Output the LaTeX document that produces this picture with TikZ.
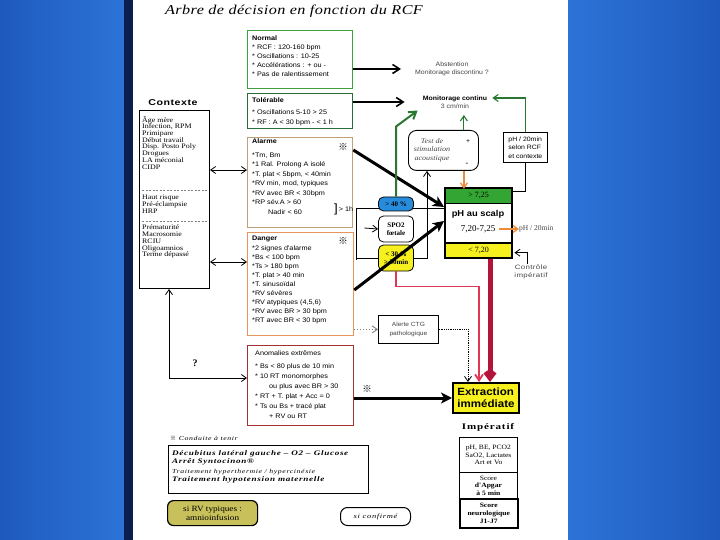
\documentclass[tikz,border=0pt]{standalone}
\usepackage{fontspec}
\setmainfont{Liberation Serif}
\setsansfont{Liberation Sans}
\newfontfamily\cjk{Noto Sans CJK SC}
\newfontfamily\ctxfont[FakeStretch=1.15]{Liberation Serif}
\newfontfamily\ttlfont[FakeStretch=1.2,LetterSpace=3]{Liberation Serif}
\newfontfamily\legfont[FakeStretch=1.3,LetterSpace=10]{Liberation Serif}
\newfontfamily\bxfont[FakeStretch=1.1]{Liberation Sans}
\newfontfamily\wfont[FakeStretch=1.25,LetterSpace=6]{Liberation Sans}
\usetikzlibrary{arrows.meta,calc,fit}
\newcommand{\fs}[2]{\fontsize{#1}{#2}\selectfont}
\newcommand{\refm}{{\cjk ※}}
\definecolor{sideL}{RGB}{30,90,190}
\definecolor{sideR}{RGB}{45,115,215}
\definecolor{navy}{RGB}{12,30,80}
\definecolor{cnormal}{RGB}{60,160,60}
\definecolor{ctol}{RGB}{40,110,60}
\definecolor{calarme}{RGB}{190,160,120}
\definecolor{cdanger}{RGB}{230,150,90}
\definecolor{canom}{RGB}{160,50,50}
\definecolor{cgreen}{RGB}{40,120,50}
\definecolor{phgreen}{RGB}{50,165,50}
\definecolor{phyellow}{RGB}{245,240,30}
\definecolor{spblue}{RGB}{40,140,220}
\definecolor{corange}{RGB}{235,140,60}
\definecolor{dred}{RGB}{180,20,60}
\definecolor{lred}{RGB}{225,55,85}
\definecolor{olive}{RGB}{200,192,90}
\definecolor{txtgray}{RGB}{70,70,70}
\tikzset{
 box/.style={draw, line width=1.3pt, anchor=north west, inner sep=0pt, fill=white},
 btxt/.style={anchor=north west, align=left, inner sep=0pt, font=\bxfont\fs{6.6}{9}},
 ctxt/.style={anchor=north west, align=left, inner sep=0pt, font=\ctxfont\fs{6.9}{6.7}},
 thinarr/.style={line width=0.8pt, -{Straight Barb[length=5pt,width=7pt]}},
 midarr/.style={line width=1.6pt, -{Straight Barb[length=7pt,width=9pt]}},
 thkarr/.style={line width=3pt, -{Stealth[length=11pt,width=11pt,inset=3pt]}},
 dblarr/.style={line width=0.8pt, {Straight Barb[length=5pt,width=7pt]}-{Straight Barb[length=5pt,width=7pt]}},
 bline/.style={draw=black, line width=0.8pt},
 spn/.style={draw, rounded corners=5pt, minimum width=35pt, inner sep=0pt, align=center, font=\fs{7}{7.5}\bfseries, line width=0.8pt},
 cell/.style={draw, anchor=north west, minimum width=58pt, align=center, inner sep=1pt, font=\ctxfont\fs{6.6}{7.6}, line width=0.9pt},
 mtxt/.style={font=\bxfont\fs{6.3}{8}, text=txtgray, align=center, inner sep=0pt},
 gthin/.style={draw=cgreen, line width=1.1pt, -{Straight Barb[length=5pt,width=7pt]}},
 gthick/.style={draw=cgreen, line width=2pt, -{Straight Barb[length=7pt,width=9pt]}},
 refmk/.style={font=\fs{9.5}{9.5}, inner sep=0pt},
}
\begin{document}
\begin{tikzpicture}[x=1pt,y=-1pt]
\useasboundingbox (0,0) rectangle (720,540);
\shade[left color=sideL, right color=sideR] (0,0) rectangle (124,540);
\fill[navy] (124,0) rectangle (133,540);
\shade[left color=sideR, right color=sideL] (568,0) rectangle (720,540);
\fill[white] (133,0) rectangle (568,540);

% title
\node[font=\ttlfont\itshape\fs{13.5}{15}] (title) at (294,11) {Arbre de décision en fonction du RCF};

% Contexte
\node[font=\wfont\bfseries\fs{8.5}{10}, inner sep=0pt] (ctxtitle) at (173,103) {Contexte};
\node[box, draw=black, line width=1pt, minimum width=70pt, minimum height=178pt] (ctx) at (139,110) {};
\node[ctxt] (ctx1) at (142,116) {Âge mère\\Infection, RPM\\Primipare\\Début travail\\Disp. Posto Poly\\Drogues\\LA méconial\\CIDP};
\draw[dashed, gray, dash pattern=on 2pt off 1.5pt] ($(ctx.north west)+(3,80)$) -- ($(ctx.north east)+(-3,80)$);
\node[ctxt] (ctx2) at (142,195) {Haut risque\\Pré-éclampsie\\HRP};
\draw[dashed, gray, dash pattern=on 2pt off 1.5pt] ($(ctx.north west)+(3,111)$) -- ($(ctx.north east)+(-3,111)$);
\node[ctxt] (ctx3) at (142,225) {Prématurité\\Macrosomie\\RCIU\\Oligoamnios\\Terme dépassé};

% Normal
\node[box, draw=cnormal, minimum width=105pt, minimum height=58pt] (normal) at (247,30) {};
\node[btxt] (normalt) at (252,36) {\textbf{Normal}\\* RCF : 120-160 bpm\\* Oscillations : 10-25\\* Accélérations : + ou -\\* Pas de ralentissement};

% Tolerable
\node[box, draw=ctol, minimum width=105pt, minimum height=35pt] (tol) at (247,93) {};
\node[btxt, font=\bxfont\fs{6.6}{10}] (tolt) at (252,97) {\textbf{Tolérable}\\[2pt]* Oscillations 5-10 > 25\\* RF : A < 30 bpm - < 1 h};

% Alarme
\node[box, draw=calarme, minimum width=105pt, minimum height=90pt] (alarme) at (247,137) {};
\node[btxt, font=\bxfont\fs{6.6}{9.5}] (alarmet) at (252,139) {\textbf{Alarme}\\[4pt]*Tm, Bm\\*1 Ral. Prolong A isolé\\*T. plat < 5bpm, < 40min\\*RV min, mod, typiques\\*RV avec BR < 30bpm\\*RP sév.A > 60\\\hspace{16pt}Nadir < 60};
\node[refmk] (alarmem) at (343,147) {\refm};
\node[font=\bxfont\fs{12}{12}, inner sep=0pt] (alarmbr) at (336,209) {]};
\node[font=\bxfont\fs{6.6}{8}, inner sep=0pt] (alarmh) at (346,209) {> 1h};

% Danger
\node[box, draw=cdanger, minimum width=106pt, minimum height=103pt] (danger) at (247,232) {};
\node[btxt] (dangert) at (252,236) {\textbf{Danger}\\[1pt]*2 signes d'alarme\\*Bs < 100 bpm\\*Ts > 180 bpm\\*T. plat > 40 min\\*T. sinusoïdal\\*RV sévères\\*RV atypiques (4,5,6)\\*RV avec BR > 30 bpm\\*RT avec BR < 30 bpm};
\node[refmk] (dangerm) at (343,241) {\refm};

% Anomalies
\node[box, draw=canom, minimum width=106pt, minimum height=80pt] (anom) at (247,345) {};
\node[btxt, font=\bxfont\fs{6.6}{10}] (anomt) at (255,350) {Anomalies extrêmes\\[3pt]* Bs < 80 plus de 10 min\\* 10 RT monomorphes\\\hspace{14pt}ou plus avec BR > 30\\* RT + T. plat + Acc = 0\\* Ts ou Bs + tracé plat\\\hspace{14pt}+ RV ou RT};

% context links
\draw[dblarr] ($(ctx.north east)+(0,60)$) -- ($(alarme.north west)+(0,33)$);
\draw[dblarr] ($(ctx.north east)+(0,152)$) -- ($(danger.north west)+(0,30)$);
\coordinate (q) at (169,378);
\draw[dblarr] (q |- ctx.south) -- (q) -- (anom.west |- q);
\node[font=\bfseries\fs{10}{10}] (qm) at (195,363) {?};

% right side text
\node[mtxt] (abst) at (452,69) {Abstention\\Monitorage discontinu ?};
\node[mtxt] (monit) at (455,102) {\textcolor{black}{\textbf{Monitorage continu}}\\3 cm/min};
\draw[midarr] (normal.east |- abst.west) -- ($(abst.west)+(-14,0)$);
\draw[midarr] (tol.east |- monit.west) -- ($(monit.west)+(-18,0)$);

% pH block
\node[anchor=north west, fill=phgreen, minimum width=67pt, minimum height=15pt, inner sep=0pt, font=\fs{8}{8}] (phg) at (445,188) {> 7,25};
\node[anchor=north west, fill=white, minimum width=67pt, minimum height=40pt, inner sep=0pt] (phw) at (445,203) {};
\node[anchor=north west, fill=phyellow, minimum width=67pt, minimum height=15pt, inner sep=0pt, font=\fs{8}{8}] (phy) at (445,243) {< 7,20};
\node[fit=(phg)(phy), draw, line width=2pt, inner sep=0pt] (ph) {};
\draw[line width=1.5pt] (phg.south west) -- (phg.south east);
\draw[line width=1.5pt] (phy.north west) -- (phy.north east);
\node[font=\bxfont\bfseries\fs{8.5}{9}, inner sep=0pt] (phtitle) at (478,214) {pH au scalp};
\node[font=\fs{9}{9}, inner sep=0pt] (phmid) at (478,229) {7,20-7,25};
\node[anchor=west, font=\fs{7.5}{8}, text=txtgray, inner sep=0pt] (ph20b) at (519,229) {pH / 20min};
\draw[draw=corange, line width=1.3pt, -{Straight Barb[length=5pt,width=7pt]}] ($(phmid.east)+(4,0)$) -- (ph20b.west);
\node[font=\wfont\fs{6.3}{8.5}, text=txtgray, align=center, inner sep=0pt] (ctrl) at (531,272) {Contrôle\\impératif};
\draw[thinarr] ($(ctrl.north)+(-4,-1)$) |- ($(phy.east)+(2,2)$);

% bracket lines and Alarme arrow behind SPO2 nodes
\coordinate (bk) at ($(alarme.north east)+(3,71)$);
\draw[bline] (bk) -- (bk -| ph.west);
\draw[bline] (bk) -- ($(danger.north east)+(2,28)$);
\draw[thkarr] ($(alarme.north east)+(0,13)$) -- ($(ph.north west)+(0,20)$);

% SPO2
\node[spn, fill=spblue, minimum height=14pt] (blue) at (396,204) {> 40 \%};
\node[spn, fill=white, minimum height=26pt] (spo2) at (396,229) {SPO2\\fœtale};
\node[spn, fill=phyellow, minimum height=26pt] (yel) at (396,258) {< 30 \%\\> 30min};
\draw[thinarr] ($(bk)+(8,20)$) -- (spo2.west);
\draw[bline] (bk |- yel.west) -- (yel.west);

% test and pH/20
\node[draw, rounded corners=8pt, line width=0.9pt, minimum width=70pt, minimum height=40pt, anchor=north west] (test) at (408,130) {};
\node[font=\ctxfont\itshape\fs{7}{8.5}, text=txtgray, align=center, inner sep=0pt] (testt) at (432,150) {Test de\\stimulation\\acoustique};
\node[font=\bfseries\fs{7}{7}, inner sep=0pt] (tplus) at (468,142) {+};
\node[font=\bfseries\fs{8}{8}, inner sep=0pt] (tminus) at (467,164) {-};
\node[draw, line width=0.7pt, anchor=north west, minimum width=44pt, minimum height=30pt, align=left, inner sep=2pt, font=\bxfont\fs{6.3}{8.5}] (ph20) at (503,132) {pH / 20min\\selon RCF\\et contexte};

\draw[gthin] (ph20.north) |- ($(monit.east)+(5,-4)$);
\draw[gthin] ($(test.north east)+(-15,0)$) -- ++(0,-15);
\draw[gthick] (blue.north) -- ++(0,-70) -- ($(monit.south west)+(-5,2)$);
\draw[line width=0.7pt] (ph20.south) |- ($(ph.north east)+(0,4)$);
\draw[draw=corange, line width=1.3pt, -{Straight Barb[length=5pt,width=7pt]}] ($(test.south east)+(-15,0)$) -- ++(0,18);
\draw[thinarr] (yel.east) -| ($(test.south west)+(19,0)$);

% Danger thick arrow over the yellow node
\draw[thkarr] ($(danger.north east)+(0,58)$) -- ($(ph.north west)+(0,34)$);

% Extraction
\node[draw, line width=2pt, fill=phyellow, anchor=north west, minimum width=66pt, minimum height=30pt, align=left, inner sep=2pt, font=\bxfont\bfseries\fs{10.5}{12}] (extr) at (452,382) {Extraction\\immédiate};
\coordinate (rx) at ($(extr.north west)+(38,0)$);
\draw[draw=dred, line width=5pt, -{Straight Barb[length=6pt,width=9pt]}] (rx |- ph.south) -- (rx);
\draw[draw=lred, line width=1.8pt, -{Straight Barb[length=6pt,width=8pt]}] (yel.south) -- ++(0,15) -| ($(extr.north west)+(27,0)$);

% Alerte CTG
\node[draw, line width=0.8pt, anchor=north west, minimum width=60pt, minimum height=28pt, align=center, font=\bxfont\fs{6}{9}, text=txtgray] (alerte) at (378,315) {Alerte CTG\\pathologique};
\draw[draw=gray, line width=0.9pt, dotted, -{Straight Barb[length=5pt,width=7pt]}] (danger.east |- alerte.west) -- (alerte.west);
\draw[line width=0.8pt, densely dotted, -{Straight Barb[length=5pt,width=7pt]}] (alerte.east) -| ($(extr.north west)+(16,0)$);

% anomalies -> extraction
\draw[thkarr] (anom.east |- extr.west) -- (extr.west);
\node[refmk] (anomm) at (367,389) {\refm};

% Imperatif
\node[font=\legfont\bfseries\fs{8.5}{9}, inner sep=0pt] (impt) at (488,427) {Impératif};
\node[cell, minimum height=35pt] (c1) at (459,437) {pH, BE, PCO2\\SaO2, Lactates\\Art et Vo};
\node[cell, minimum height=26pt] (c2) at (459,472) {Score\\\textbf{d'Apgar}\\\textbf{à 5 min}};
\node[cell, line width=1.5pt, minimum height=29pt] (c3) at (459,498) {\textbf{Score}\\\textbf{neurologique}\\\textbf{J1-J7}};

% Legend
\node[anchor=west, font=\legfont\itshape\fs{6}{7}, inner sep=0pt] (legt) at (170,438) {\refm\ Conduite à tenir};
\node[draw, line width=1.2pt, anchor=north west, minimum width=200pt, minimum height=48pt] (leg) at (168,445) {};
\node[anchor=north west, align=left, inner sep=0pt, font=\legfont\fs{7}{8.5}] (legtx) at (172,450) {\textbf{\textit{Décubitus latéral gauche – O2 – Glucose}}\\\textbf{\textit{Arrêt Syntocinon®}}\\[1pt]{\itshape\fs{6}{8.5}Traitement hyperthermie / hypercinésie}\\\textbf{\textit{Traitement hypotension maternelle}}};

\node[draw, line width=1.2pt, fill=olive, rounded corners=6pt, anchor=north west, minimum width=90pt, minimum height=25pt, align=center, inner sep=1pt, font=\ctxfont\fs{8}{9}] (sirv) at (167,500) {si RV typiques :\\amnioinfusion};
\node[draw, line width=1pt, rounded corners=7pt, anchor=north west, minimum width=70pt, minimum height=18pt, font=\legfont\itshape\fs{6.5}{7}] (sicf) at (340,507) {si confirmé};
\end{tikzpicture}
\end{document}
